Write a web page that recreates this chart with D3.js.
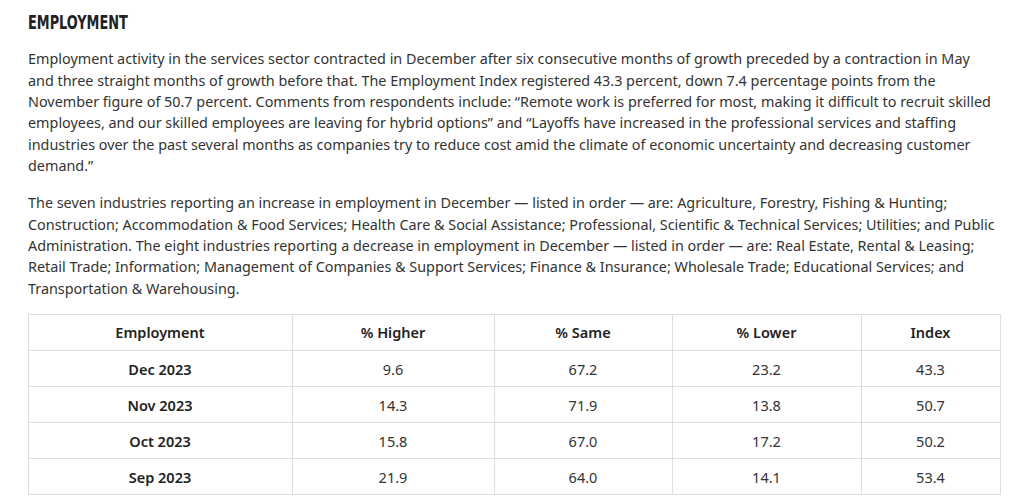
<!DOCTYPE html>
<html>
<head>
<meta charset="utf-8">
<script src="https://cdn.jsdelivr.net/npm/d3@7"></script>
<style>
  html, body { margin: 0; padding: 0; background: #fff; }
  svg { display: block; }
</style>
</head>
<body>
<script>
const width = 1034, height = 501;

// table data
const columns = ["Employment", "% Higher", "% Same", "% Lower", "Index"];
const months = ["Dec 2023", "Nov 2023", "Oct 2023", "Sep 2023"];
const higher = [9.6, 14.3, 15.8, 21.9];
const same = [67.2, 71.9, 67.0, 64.0];
const lower = [23.2, 13.8, 17.2, 14.1];
const index = [43.3, 50.7, 50.2, 53.4];

const title = "EMPLOYMENT";
const para1 = [
  "Employment activity in the services sector contracted in December after six consecutive months of growth preceded by a contraction in May",
  "and three straight months of growth before that. The Employment Index registered 43.3 percent, down 7.4 percentage points from the",
  "November figure of 50.7 percent. Comments from respondents include: \u201cRemote work is preferred for most, making it difficult to recruit skilled",
  "employees, and our skilled employees are leaving for hybrid options\u201d and \u201cLayoffs have increased in the professional services and staffing",
  "industries over the past several months as companies try to reduce cost amid the climate of economic uncertainty and decreasing customer",
  "demand.\u201d"
];
const para2 = [
  "The seven industries reporting an increase in employment in December \u2014 listed in order \u2014 are: Agriculture, Forestry, Fishing & Hunting;",
  "Construction; Accommodation & Food Services; Health Care & Social Assistance; Professional, Scientific & Technical Services; Utilities; and Public",
  "Administration. The eight industries reporting a decrease in employment in December \u2014 listed in order \u2014 are: Real Estate, Rental & Leasing;",
  "Retail Trade; Information; Management of Companies & Support Services; Finance & Insurance; Wholesale Trade; Educational Services; and",
  "Transportation & Warehousing."
];

const svg = d3.select("body").append("svg").attr("width", width).attr("height", height);
const left = 28, bodyFont = "'Noto Sans', 'Open Sans', sans-serif";

// heading
const head = svg.append("text").attr("x", left).attr("y", 29.5)
  .attr("font-family", "'Liberation Sans Narrow', 'DejaVu Sans Condensed', sans-serif")
  .attr("font-weight", 700).attr("font-size", 20).attr("fill", "#222")
  .text(title);
const hw = head.node().getComputedTextLength();
head.attr("transform", `translate(${left},0) scale(${100 / hw},1) translate(${-left},0)`);

// paragraphs
function paragraph(lines, y0) {
  const lh = 21.3;
  const g = svg.append("g").attr("font-family", bodyFont).attr("font-size", 14).attr("fill", "#333");
  g.selectAll("text").data(lines).join("text")
    .attr("x", left).attr("y", (d, i) => y0 + i * lh)
    .text(d => d);
  return g;
}
const p1 = paragraph(para1, 64.3);
paragraph(para2, 208.3);

// fit font size so first line spans like the reference
const w1 = p1.select("text").node().getComputedTextLength();
const fs = 14 * 943 / w1;
svg.selectAll("g text").attr("font-size", fs);

// table
const rows = months.map((m, i) => [m, higher[i], same[i], lower[i], index[i]]);
const edges = [28, 292, 494, 672, 861, 1000];
const x = d3.scaleOrdinal().domain(columns).range(columns.map((c, i) => (edges[i] + edges[i + 1]) / 2));
const y = d3.scaleBand().domain(["head", ...months]).range([314, 494]);
const line = "#dedede";

const table = svg.append("g").attr("font-family", bodyFont).attr("font-size", 14.5);
table.append("g").selectAll("line").data(y.domain().concat("end")).join("line")
  .attr("x1", edges[0]).attr("x2", edges[edges.length - 1])
  .attr("y1", d => (d === "end" ? y.range()[1] : y(d)) + 0.5)
  .attr("y2", d => (d === "end" ? y.range()[1] : y(d)) + 0.5)
  .attr("stroke", line);
table.append("g").selectAll("line").data(edges).join("line")
  .attr("x1", d => d + 0.5).attr("x2", d => d + 0.5)
  .attr("y1", y.range()[0]).attr("y2", y.range()[1] + 1)
  .attr("stroke", line);

table.append("g").selectAll("text").data(columns).join("text")
  .attr("x", d => x(d)).attr("y", y("head") + y.bandwidth() / 2 + 6)
  .attr("text-anchor", "middle").attr("font-weight", 600).attr("fill", "#222")
  .text(d => d);

const rowG = table.append("g").selectAll("g").data(rows).join("g")
  .attr("transform", d => `translate(0,${y(d[0]) + y.bandwidth() / 2 + 6.5})`);
rowG.selectAll("text").data(d => d.map((v, i) => ({ col: columns[i], v }))).join("text")
  .attr("x", d => x(d.col)).attr("text-anchor", "middle")
  .attr("font-weight", d => d.col === "Employment" ? 600 : 400)
  .attr("fill", d => d.col === "Employment" ? "#222" : "#333")
  .text(d => typeof d.v === "number" ? d3.format(".1f")(d.v) : d.v);
</script>
</body>
</html>
